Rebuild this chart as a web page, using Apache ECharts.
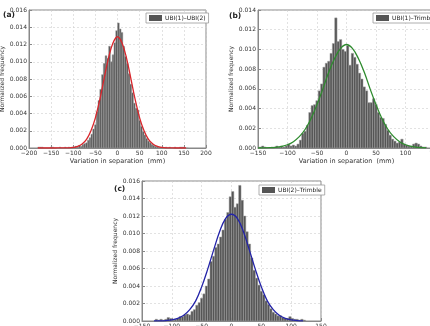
<!DOCTYPE html>
<html>
<head>
<meta charset="utf-8">
<script src="https://cdn.jsdelivr.net/npm/echarts@6/dist/echarts.min.js"></script>
<style>
  html, body {margin: 0; padding: 0; background: #fff;}
  #chart {width: 430px; height: 326px;}
</style>
</head>
<body>
<div id="chart"></div>
<script>
// histogram bins (width 4 mm), normalized frequency
const binWidth = 4;

const aStart = -180;
const aDens = [
  0.0001, 0.0001, 0.0001, 0, 0, 0, 0, 0.0001, 0.0001, 0,
  0, 0, 0.0001, 0, 0, 0.0001, 0, 0.0001, 0, 0.0001,
  0.0001, 0.0002, 0.0001, 0.0003, 0.0002, 0.0004, 0.0005, 0.0006, 0.0009, 0.0012,
  0.0016, 0.0022, 0.0027, 0.0042, 0.0055, 0.0068, 0.0085, 0.0098, 0.0107, 0.0104,
  0.0118, 0.0100, 0.0108, 0.0122, 0.0136, 0.0145, 0.0138, 0.0134, 0.0118, 0.0106,
  0.0098, 0.0086, 0.0074, 0.0064, 0.0052, 0.0046, 0.0044, 0.0032, 0.0025, 0.0019,
  0.0015, 0.0011, 0.0008, 0.0006, 0.0004, 0.0003, 0.0002, 0.0002, 0.0001, 0.0001,
  0.0001, 0, 0.0001, 0, 0.0001, 0, 0, 0.0001, 0, 0,
  0.0001, 0.0001, 0.0001, 0, 0
];

const bStart = -148;
const bDens = [
  0.0001, 0.0002, 0.0001, 0, 0, 0.0001, 0.0001, 0.0002, 0.0001, 0.0002,
  0.0001, 0.0002, 0.0004, 0.0002, 0.0003, 0.0002, 0.0004, 0.0008, 0.0015, 0.0017,
  0.0023, 0.0036, 0.0043, 0.0044, 0.0048, 0.0058, 0.0065, 0.0082, 0.0086, 0.0088,
  0.0096, 0.0106, 0.0132, 0.0108, 0.0110, 0.0100, 0.0098, 0.0104, 0.0084, 0.0096,
  0.0092, 0.0085, 0.0076, 0.0070, 0.0062, 0.0058, 0.0046, 0.0046, 0.0050, 0.0044,
  0.0036, 0.0031, 0.0030, 0.0024, 0.0018, 0.0013, 0.0009, 0.0007, 0.0005, 0.0006,
  0.0009, 0.0004, 0.0003, 0.0002, 0.0002, 0.0004, 0.0005, 0.0004, 0.0002, 0.0001,
  0.0001
];

const cStart = -128;
const cDens = [
  0.0002, 0.0001, 0.0002, 0.0001, 0.0002, 0.0004, 0.0003, 0.0001, 0.0002, 0.0003,
  0.0005, 0.0005, 0.0007, 0.0008, 0.0007, 0.0011, 0.0013, 0.0018, 0.0021, 0.0026,
  0.0031, 0.0040, 0.0048, 0.0068, 0.0074, 0.0084, 0.0088, 0.0096, 0.0104, 0.0116,
  0.0124, 0.0142, 0.0148, 0.0130, 0.0134, 0.0155, 0.0138, 0.0120, 0.0102, 0.0088,
  0.0072, 0.0058, 0.0049, 0.0041, 0.0034, 0.0030, 0.0023, 0.0019, 0.0014, 0.0010,
  0.0008, 0.0006, 0.0006, 0.0004, 0.0003, 0.0003, 0.0005, 0.0003, 0.0002, 0.0002,
  0.0001, 0.0002, 0.0001
];

// fitted curves
const aFitX = [-180, -170, -160, -150, -140, -130, -120, -110, -100, -90, -80, -70, -60, -50, -40, -30, -20, -10,
  0, 10, 20, 30, 40, 50, 60, 70, 80, 90, 100, 110, 120, 130, 140, 155];
const aFitY = [0, 0, 0, 0, 0, 0.00001, 0.00001, 0.00002, 0.00007, 0.00019, 0.00046, 0.0010, 0.0020, 0.0035, 0.0056, 0.0081, 0.0105, 0.0122,
  0.0129, 0.0122, 0.0105, 0.0081, 0.0056, 0.0035, 0.0020, 0.0010, 0.00046, 0.00019, 0.00007, 0.00002, 0.00001, 0, 0, 0];

const bFitX = [-150, -140, -130, -120, -110, -100, -90, -80, -70, -60, -50, -40, -30, -20, -10,
  0, 10, 20, 30, 40, 50, 60, 70, 80, 90, 100, 110, 120, 135];
const bFitY = [0, 0.00001, 0.00003, 0.00007, 0.00016, 0.00033, 0.00064, 0.00115, 0.0019, 0.0030, 0.0044, 0.0060, 0.0077, 0.0091, 0.0101,
  0.0105, 0.0101, 0.0091, 0.0077, 0.0060, 0.0044, 0.0030, 0.0019, 0.00115, 0.00064, 0.00033, 0.00016, 0.00007, 0.00002];

const cFitX = [-130, -120, -110, -100, -90, -80, -70, -60, -50, -40, -30, -20, -10,
  0, 10, 20, 30, 40, 50, 60, 70, 80, 90, 100, 110, 120];
const cFitY = [0.00001, 0.00002, 0.00005, 0.00012, 0.0003, 0.00065, 0.0013, 0.0023, 0.0039, 0.0059, 0.0081, 0.0102, 0.0117,
  0.0122, 0.0117, 0.0102, 0.0081, 0.0059, 0.0039, 0.0023, 0.0013, 0.00065, 0.0003, 0.00012, 0.00005, 0.00002];

const names = ['UBI(1)–UBI(2)', 'UBI(1)–Trimble', 'UBI(2)–Trimble'];
const panelTags = ['(a)', '(b)', '(c)'];
const xTitle = 'Variation in separation  (mm)';
const yTitle = 'Normalized frequency';

const FONT = 'DejaVu Sans';
const fmtX = v => String(v).replace('-', '\u2212');
const fmtY = v => v.toFixed(3);

function bins(start, dens) {
  return dens.map((d, i) => [start + i * binWidth, start + (i + 1) * binWidth, d]);
}
function pairs(xs, ys) {
  return xs.map((x, i) => [x, ys[i]]);
}

function histItem(params, api) {
  const p0 = api.coord([api.value(0), api.value(2)]);
  const p1 = api.coord([api.value(1), 0]);
  return {
    type: 'rect',
    shape: {x: p0[0], y: p0[1], width: p1[0] - p0[0], height: p1[1] - p0[1]},
    style: {fill: '#555', stroke: '#a0a0a0', lineWidth: 0.5}
  };
}

const grids = [
  {left: 29, top: 10, width: 177, height: 138},
  {left: 258, top: 10, width: 177, height: 138},
  {left: 142, top: 181, width: 179, height: 140}
];

const gridLine = {show: true, lineStyle: {color: '#cfcfcf', type: [2, 2], width: 0.6}};

function xAxisOf(i, min, max) {
  return {
    type: 'value', gridIndex: i, min: min, max: max, interval: 50,
    name: xTitle, nameLocation: 'middle', nameGap: 10,
    nameTextStyle: {fontSize: 6.5, color: '#333', fontFamily: FONT},
    axisLine: {onZero: false, lineStyle: {color: '#888'}},
    axisTick: {inside: true, length: 3, lineStyle: {color: '#888'}},
    axisLabel: {fontSize: 6, color: '#333', margin: 2, fontFamily: FONT, formatter: fmtX},
    splitLine: gridLine
  };
}
function yAxisOf(i, max) {
  return {
    type: 'value', gridIndex: i, min: 0, max: max, interval: 0.002,
    name: yTitle, nameLocation: 'middle', nameGap: 18,
    nameTextStyle: {fontSize: 6, color: '#333', fontFamily: FONT},
    axisLine: {onZero: false, lineStyle: {color: '#888'}},
    axisTick: {inside: true, length: 3, lineStyle: {color: '#888'}},
    axisLabel: {fontSize: 6, color: '#333', margin: 2, fontFamily: FONT, formatter: fmtY},
    splitLine: gridLine
  };
}

const fitColors = ['#d9262c', '#2e8b2e', '#2323a8'];
const histData = [bins(aStart, aDens), bins(bStart, bDens), bins(cStart, cDens)];
const fitData = [pairs(aFitX, aFitY), pairs(bFitX, bFitY), pairs(cFitX, cFitY)];

const series = [];
for (let i = 0; i < 3; i++) {
  series.push({
    name: names[i], type: 'custom', xAxisIndex: i, yAxisIndex: i,
    renderItem: histItem, encode: {x: [0, 1], y: 2},
    itemStyle: {color: '#555'}, clip: true, silent: true,
    data: histData[i]
  });
  series.push({
    name: 'fit' + i, type: 'line', xAxisIndex: i, yAxisIndex: i,
    smooth: 0.4, showSymbol: false, silent: true,
    lineStyle: {color: fitColors[i], width: 1.3},
    data: fitData[i], z: 5
  });
}

function legendOf(i, pos) {
  return Object.assign({
    data: [{name: names[i], icon: 'rect'}],
    orient: 'horizontal', itemWidth: 13, itemHeight: 6, itemGap: 4,
    padding: [2, 3, 2, 3], borderColor: '#999', borderWidth: 0.8, backgroundColor: '#fff',
    textStyle: {fontSize: 6, color: '#222', fontFamily: FONT, padding: [0, 0, 0, -2]},
    selectedMode: false
  }, pos);
}

const chart = echarts.init(document.getElementById('chart'), null, {renderer: 'canvas'});
chart.setOption({
  animation: false,
  backgroundColor: '#fff',
  title: [
    {text: panelTags[0], left: 3, top: 11},
    {text: panelTags[1], left: 229, top: 12},
    {text: panelTags[2], left: 114, top: 185}
  ].map(t => Object.assign(t, {padding: 0, textStyle: {fontSize: 7.5, fontWeight: 'bold', color: '#222', fontFamily: FONT}})),
  legend: [
    legendOf(0, {left: 146, top: 13}),
    legendOf(1, {left: 373, top: 13}),
    legendOf(2, {left: 259, top: 185})
  ],
  grid: grids.map(g => Object.assign(g, {
    show: true, borderColor: '#888', borderWidth: 1, backgroundColor: 'transparent',
    containLabel: false, outerBoundsMode: 'none'
  })),
  xAxis: [xAxisOf(0, -200, 200), xAxisOf(1, -150, 150), xAxisOf(2, -150, 150)],
  yAxis: [yAxisOf(0, 0.016), yAxisOf(1, 0.014), yAxisOf(2, 0.016)],
  series: series
});
</script>
</body>
</html>
